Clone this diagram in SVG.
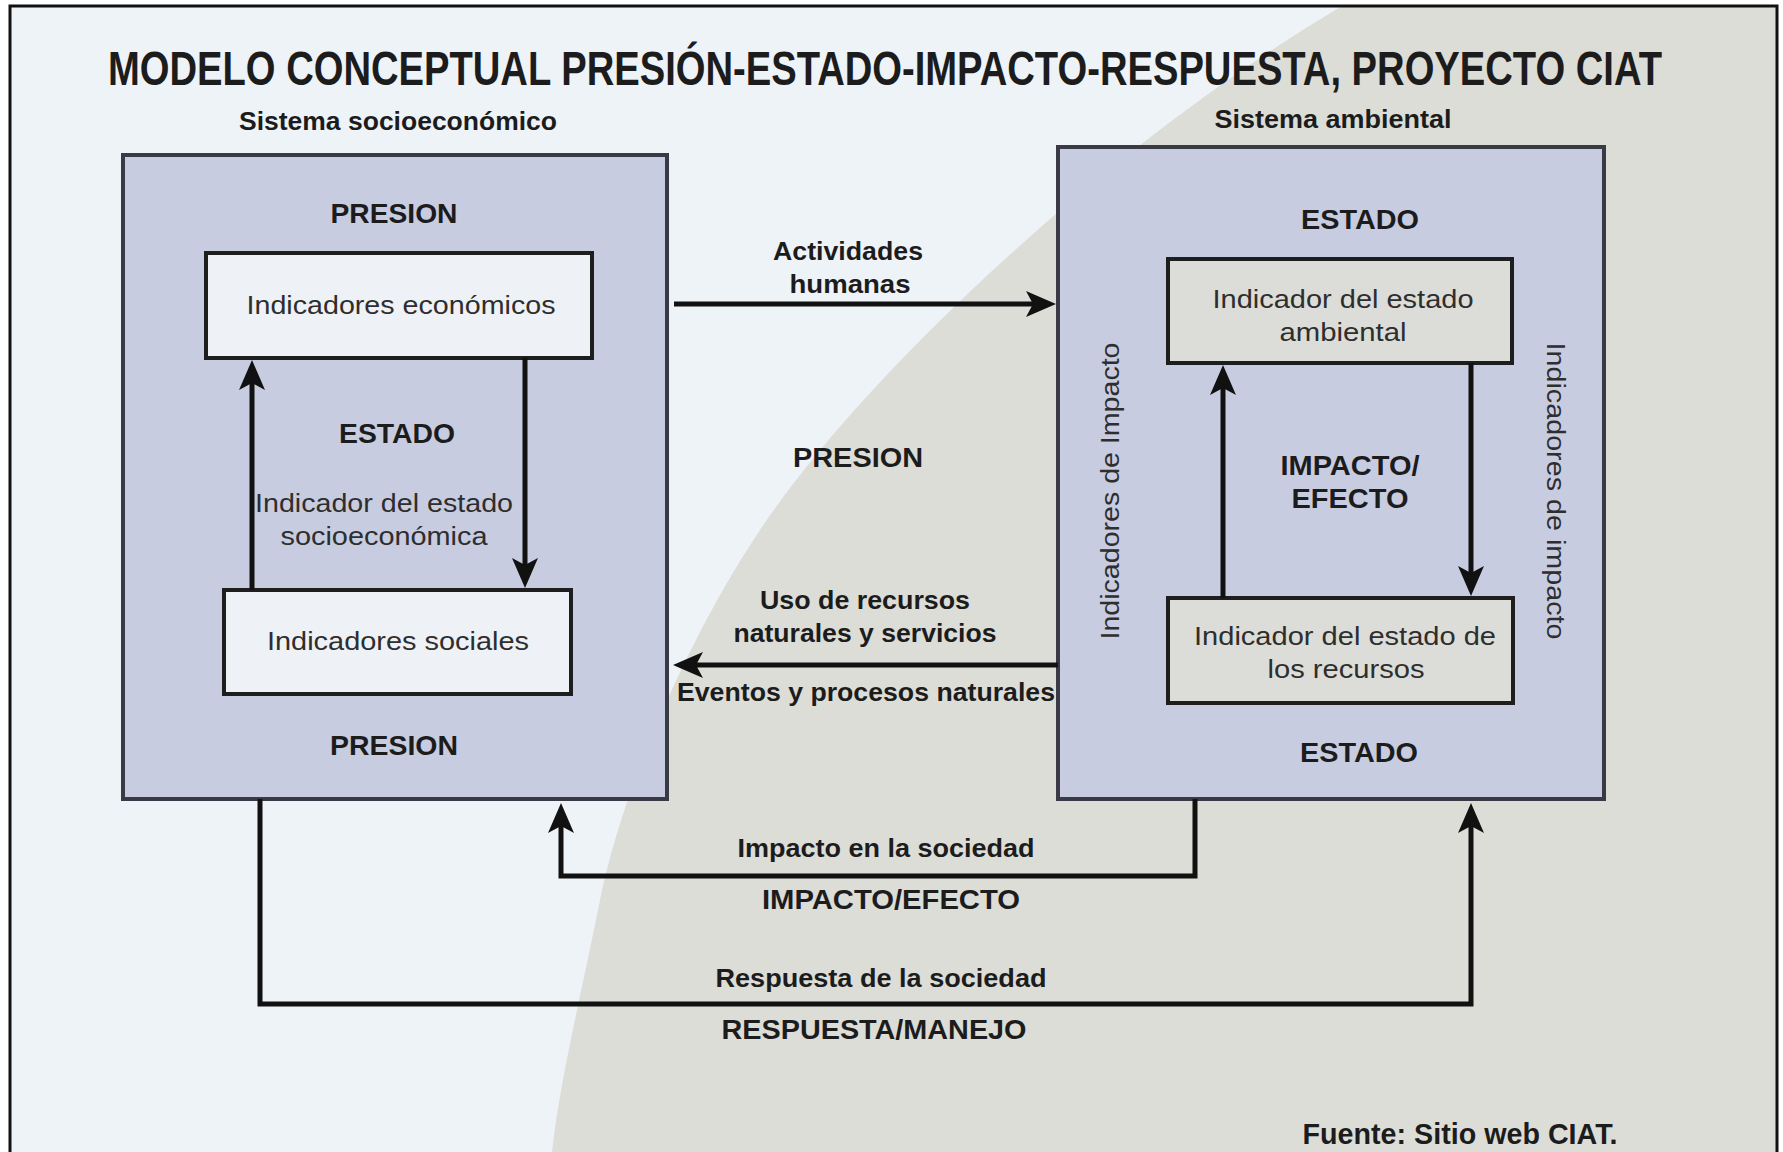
<svg xmlns="http://www.w3.org/2000/svg" width="1783" height="1152" viewBox="0 0 1783 1152">
<style>
  text { font-family: "Liberation Sans", Arial, sans-serif; fill: #1c1c1c; text-anchor: middle; }
  .b { font-weight: bold; }
  .n { font-weight: normal; fill: #2e2e2e; }
  .big { fill: #c8cce1; stroke: #3a3a46; stroke-width: 4; }
  .inL { fill: #eef2f6; stroke: #1e1e1e; stroke-width: 4; }
  .inR { fill: #dcddd8; stroke: #1e1e1e; stroke-width: 4; }
  .con { fill: none; stroke: #111; stroke-width: 5; }
</style>
<defs>
  <marker id="ah" viewBox="0 0 30 26" markerWidth="30" markerHeight="26" refX="21" refY="13" orient="auto" markerUnits="userSpaceOnUse">
    <path d="M0,0 L30,13 L0,26 L7,13 Z" fill="#111"/>
  </marker>
</defs>

<g id="background">
  <rect x="0" y="0" width="1783" height="1152" fill="#ffffff"/>
  <rect x="10" y="6" width="1767" height="1160" fill="#eef3f8"/>
  <path d="M1342,6 C1100,150 860,380 760,530 C680,650 620,800 600,900 C580,1000 560,1080 552,1152 L1777,1152 L1777,6 Z" fill="#dcddd7"/>
  <rect x="10" y="6" width="1767" height="1160" fill="none" stroke="#111" stroke-width="3"/>
</g>

<g id="title">
  <text class="b" transform="translate(885,85) scale(1,1.2)" x="0" y="0" font-size="40" textLength="1554" lengthAdjust="spacingAndGlyphs">MODELO CONCEPTUAL PRESIÓN-ESTADO-IMPACTO-RESPUESTA, PROYECTO CIAT</text>
</g>

<g id="sistema-socioeconomico">
  <text class="b" x="398" y="130" font-size="25" textLength="318" lengthAdjust="spacingAndGlyphs">Sistema socioeconómico</text>
  <rect class="big" x="123" y="155" width="544" height="644"/>
  <text class="b" x="394" y="223" font-size="28" textLength="127" lengthAdjust="spacingAndGlyphs">PRESION</text>
  <text class="b" x="397" y="443" font-size="28" textLength="116" lengthAdjust="spacingAndGlyphs">ESTADO</text>
  <text class="n" x="384" y="512" font-size="26" textLength="258" lengthAdjust="spacingAndGlyphs">Indicador del estado</text>
  <text class="n" x="384" y="545" font-size="26" textLength="207" lengthAdjust="spacingAndGlyphs">socioeconómica</text>
  <text class="b" x="394" y="755" font-size="28" textLength="128" lengthAdjust="spacingAndGlyphs">PRESION</text>
</g>

<g id="indicadores-economicos">
  <rect class="inL" x="206" y="253" width="386" height="105"/>
  <text class="n" x="401" y="314" font-size="26" textLength="309" lengthAdjust="spacingAndGlyphs">Indicadores económicos</text>
</g>

<g id="indicadores-sociales">
  <rect class="inL" x="224" y="590" width="347" height="104"/>
  <text class="n" x="398" y="650" font-size="26" textLength="262" lengthAdjust="spacingAndGlyphs">Indicadores sociales</text>
</g>

<g id="sistema-ambiental">
  <text class="b" x="1333" y="128" font-size="25" textLength="237" lengthAdjust="spacingAndGlyphs">Sistema ambiental</text>
  <rect class="big" x="1058" y="147" width="546" height="652"/>
  <text class="b" x="1360" y="229" font-size="28" textLength="118" lengthAdjust="spacingAndGlyphs">ESTADO</text>
  <text class="b" x="1350" y="475" font-size="28" textLength="139" lengthAdjust="spacingAndGlyphs">IMPACTO/</text>
  <text class="b" x="1350" y="508" font-size="28" textLength="117" lengthAdjust="spacingAndGlyphs">EFECTO</text>
  <text class="b" x="1359" y="762" font-size="28" textLength="118" lengthAdjust="spacingAndGlyphs">ESTADO</text>
  <text class="n" transform="translate(1119,491) rotate(-90)" x="0" y="0" font-size="26" textLength="297" lengthAdjust="spacingAndGlyphs">Indicadores de Impacto</text>
  <text class="n" transform="translate(1547,491) rotate(90)" x="0" y="0" font-size="26" textLength="297" lengthAdjust="spacingAndGlyphs">Indicadores de impacto</text>
</g>

<g id="indicador-estado-ambiental">
  <rect class="inR" x="1168" y="259" width="344" height="104"/>
  <text class="n" x="1343" y="308" font-size="26" textLength="261" lengthAdjust="spacingAndGlyphs">Indicador del estado</text>
  <text class="n" x="1343" y="341" font-size="26" textLength="127" lengthAdjust="spacingAndGlyphs">ambiental</text>
</g>

<g id="indicador-estado-recursos">
  <rect class="inR" x="1168" y="598" width="345" height="105"/>
  <text class="n" x="1345" y="645" font-size="26" textLength="302" lengthAdjust="spacingAndGlyphs">Indicador del estado de</text>
  <text class="n" x="1346" y="678" font-size="26" textLength="157" lengthAdjust="spacingAndGlyphs">los recursos</text>
</g>

<g id="connectors">
  <line class="con" x1="252" y1="590" x2="252" y2="369" marker-end="url(#ah)"/>
  <line class="con" x1="525" y1="358" x2="525" y2="579" marker-end="url(#ah)"/>
  <line class="con" x1="1223" y1="598" x2="1223" y2="374" marker-end="url(#ah)"/>
  <line class="con" x1="1471" y1="363" x2="1471" y2="587" marker-end="url(#ah)"/>
  <line class="con" x1="674" y1="304" x2="1047" y2="304" marker-end="url(#ah)"/>
  <line class="con" x1="1058" y1="665" x2="682" y2="665" marker-end="url(#ah)"/>
  <path class="con" d="M1195,799 V876 H561 V812" marker-end="url(#ah)"/>
  <path class="con" d="M260,799 V1004 H1471 V812" marker-end="url(#ah)"/>
</g>

<g id="labels">
  <text class="b" x="848" y="260" font-size="25" textLength="150" lengthAdjust="spacingAndGlyphs">Actividades</text>
  <text class="b" x="850" y="293" font-size="25" textLength="121" lengthAdjust="spacingAndGlyphs">humanas</text>
  <text class="b" x="858" y="467" font-size="27" textLength="130" lengthAdjust="spacingAndGlyphs">PRESION</text>
  <text class="b" x="865" y="609" font-size="25" textLength="210" lengthAdjust="spacingAndGlyphs">Uso de recursos</text>
  <text class="b" x="865" y="642" font-size="25" textLength="263" lengthAdjust="spacingAndGlyphs">naturales y servicios</text>
  <text class="b" x="866" y="701" font-size="25" textLength="378" lengthAdjust="spacingAndGlyphs">Eventos y procesos naturales</text>
  <text class="b" x="886" y="857" font-size="25" textLength="297" lengthAdjust="spacingAndGlyphs">Impacto en la sociedad</text>
  <text class="b" x="891" y="909" font-size="27" textLength="258" lengthAdjust="spacingAndGlyphs">IMPACTO/EFECTO</text>
  <text class="b" x="881" y="987" font-size="25" textLength="331" lengthAdjust="spacingAndGlyphs">Respuesta de la sociedad</text>
  <text class="b" x="874" y="1039" font-size="27" textLength="305" lengthAdjust="spacingAndGlyphs">RESPUESTA/MANEJO</text>
  <text class="b" x="1460" y="1144" font-size="30" textLength="315" lengthAdjust="spacingAndGlyphs">Fuente: Sitio web CIAT.</text>
</g>
</svg>
